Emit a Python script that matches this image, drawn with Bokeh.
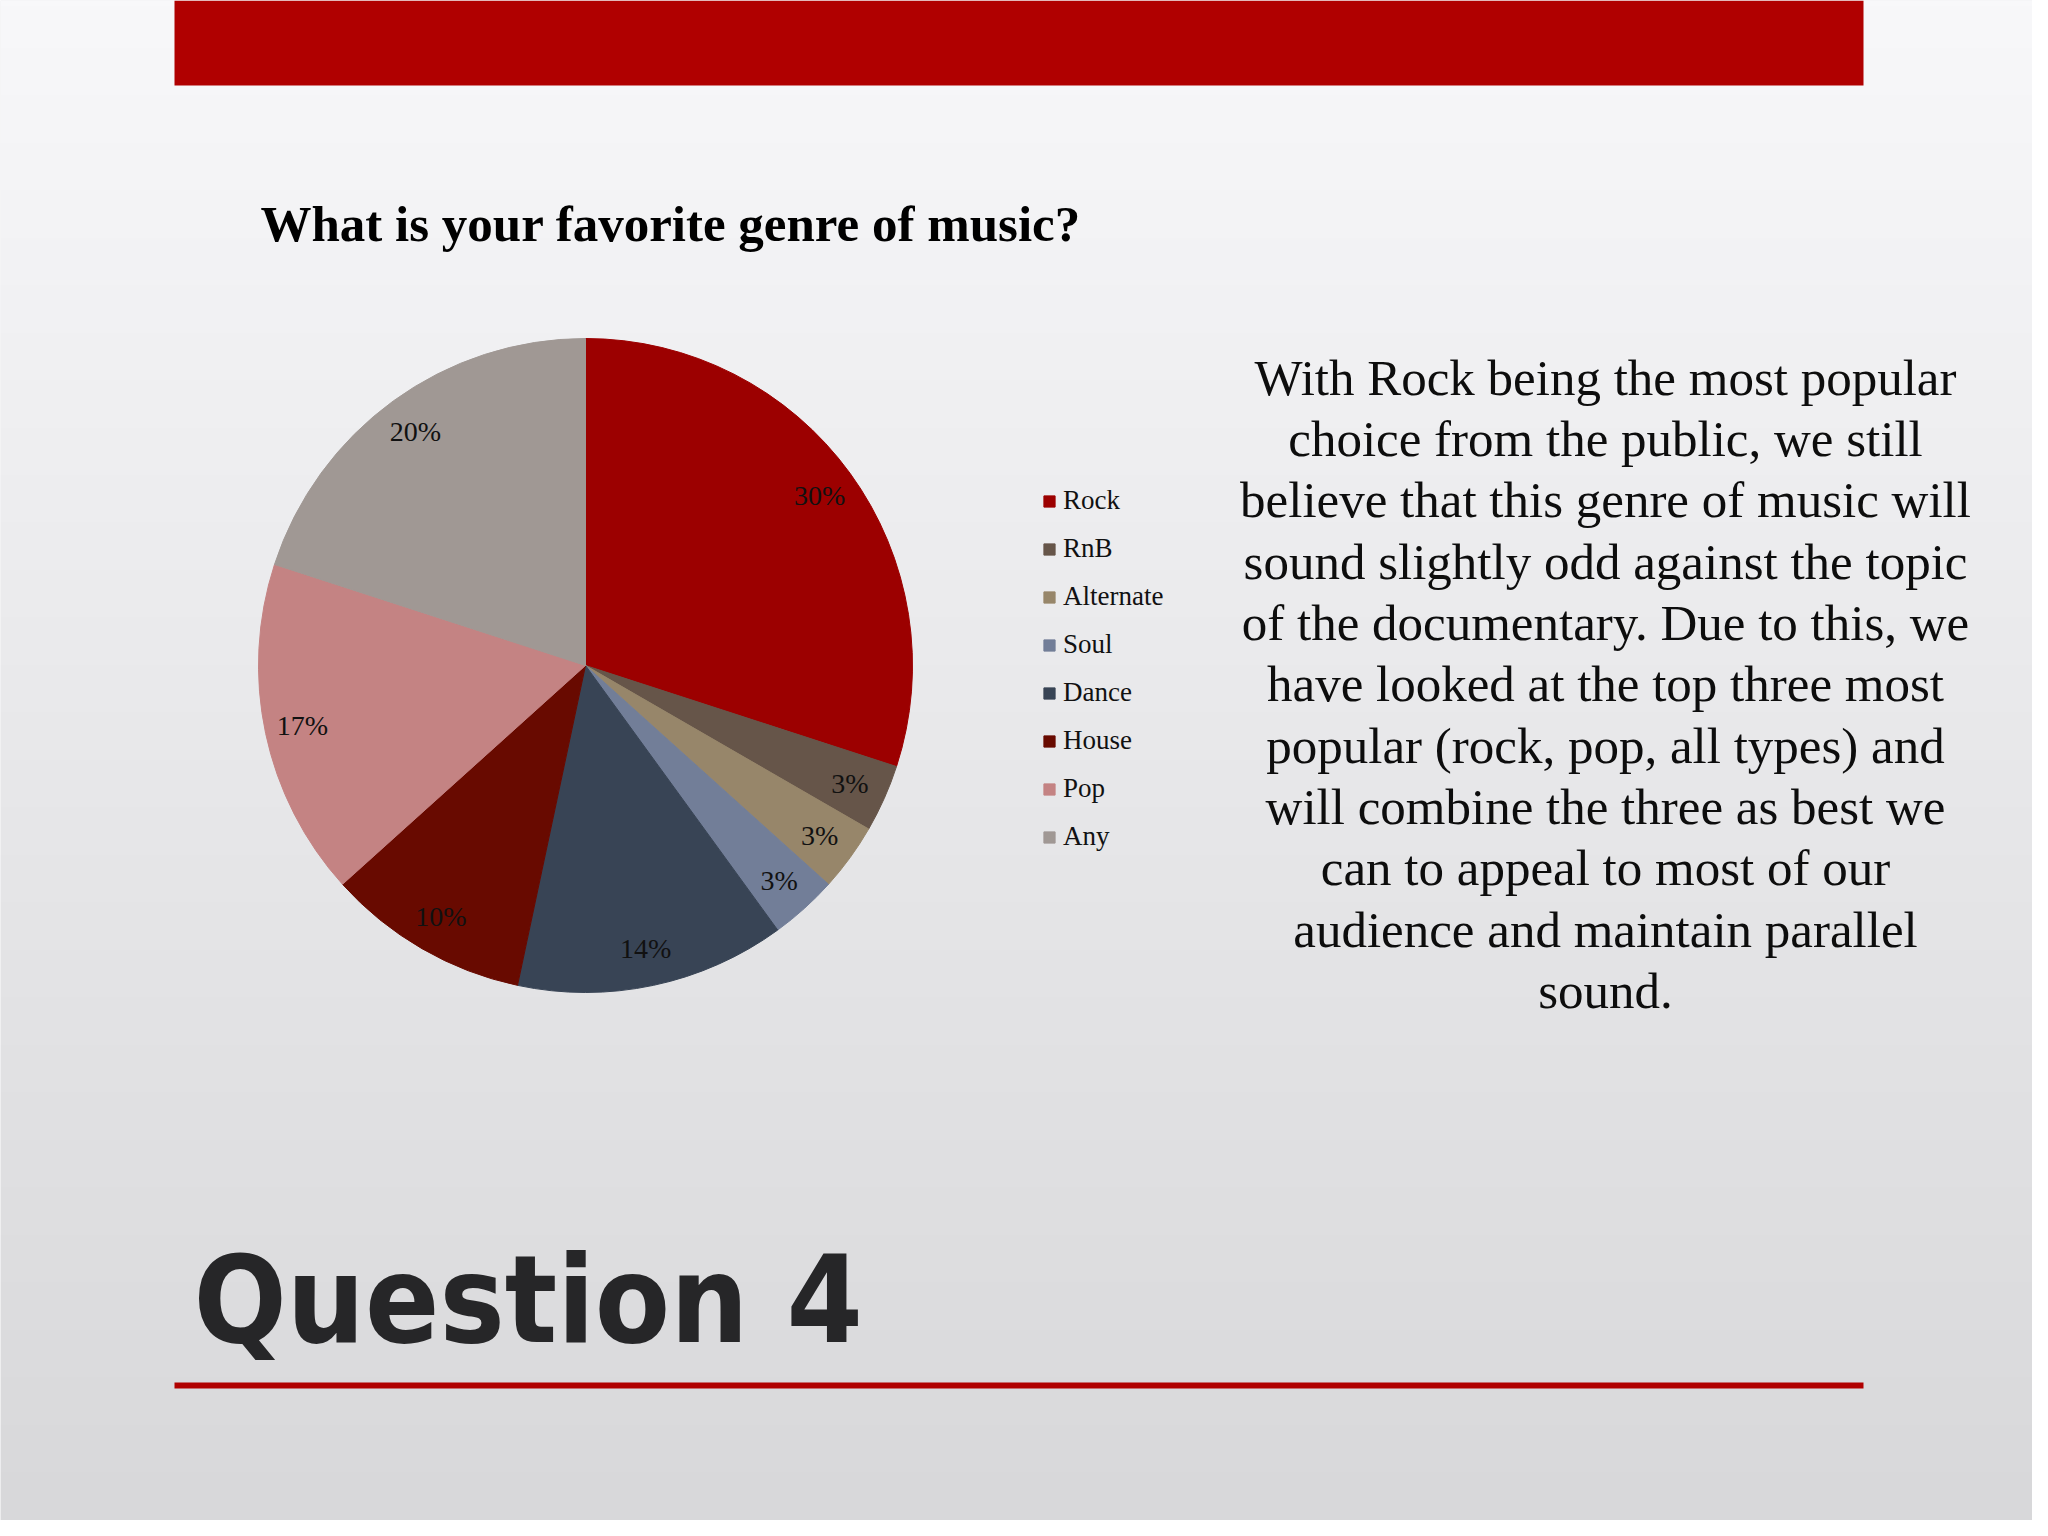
import numpy as np
from bokeh.plotting import figure
from bokeh.models import ColumnDataSource, Range1d, Legend, LegendItem
from bokeh.core.properties import value
from bokeh.embed import file_html
from bokeh.resources import INLINE

# ---- data ----
categories = ["Rock", "RnB", "Alternate", "Soul", "Dance", "House", "Pop", "Any"]
responses = [9, 1, 1, 1, 4, 3, 5, 6]          # slice sizes
pct_labels = ["30%", "3%", "3%", "3%", "14%", "10%", "17%", "20%"]  # data labels as printed
colors = ["#9c0000", "#665549", "#97866a", "#727e98", "#384455", "#680a00", "#c48383", "#a09894"]

chart_title = "What is your favorite genre of music?"
slide_title = "Question 4"
paragraph_lines = [
    "With Rock being the most popular",
    "choice from the public, we still",
    "believe that this genre of music will",
    "sound slightly odd against the topic",
    "of the documentary. Due to this, we",
    "have looked at the top three most",
    "popular (rock, pop, all types) and",
    "will combine the three as best we",
    "can to appeal to most of our",
    "audience and maintain parallel",
    "sound.",
]

PAGE_H = 1536
W, H_FIG = 2032, 1520


def Y(page_y):
    return PAGE_H - page_y


p = figure(width=W, height=H_FIG, x_range=Range1d(0, W), y_range=Range1d(PAGE_H - H_FIG, PAGE_H),
           output_backend="svg", toolbar_location=None, min_border=0,
           x_axis_type=None, y_axis_type=None, outline_line_color=None)
p.grid.visible = False
p.background_fill_color = "#ececee"
p.border_fill_color = "#ececee"

# background gradient
H = 256
img = np.zeros((H, 1), dtype=np.uint32)
view = img.view(dtype=np.uint8).reshape((H, 1, 4))
for i in range(H):
    t = 1 - i / (H - 1)  # 0 at top, 1 at bottom (row 0 is bottom)
    c = 248 - 32 * t
    view[i, 0, 0] = int(c)
    view[i, 0, 1] = int(c)
    view[i, 0, 2] = int(min(255, c + 2))
    view[i, 0, 3] = 255
p.image_rgba(image=[img], x=0, y=PAGE_H - H_FIG, dw=W, dh=H_FIG)

# top bar and bottom rule
p.quad(left=[174], right=[1863], top=[Y(0)], bottom=[Y(85)], fill_color="#b00000", line_color=None)
p.quad(left=[174], right=[1863], top=[Y(1382)], bottom=[Y(1388)], fill_color="#b00000", line_color=None)

# pie
cx, cy, r = 585, Y(665), 327
fr = np.array(responses, dtype=float) / sum(responses)
cum = np.concatenate([[0], np.cumsum(fr)])
start = np.pi / 2 - 2 * np.pi * cum[:-1]
end = np.pi / 2 - 2 * np.pi * cum[1:]
mid = np.pi / 2 - 2 * np.pi * (cum[:-1] + fr / 2)
src = ColumnDataSource(dict(cat=categories, start=start, end=end, color=colors,
                            lx=cx + 0.885 * r * np.cos(mid), ly=cy + 0.885 * r * np.sin(mid),
                            lab=pct_labels))
wr = p.wedge(x=cx, y=cy, radius=r, start_angle="start", end_angle="end", direction="clock",
             fill_color="color", line_color="color", line_width=1, source=src)
p.text(x="lx", y="ly", text="lab", source=src, text_align="center", text_baseline="middle",
       text_font=value("Liberation Serif"), text_font_size="28px", text_color="#111111")

# legend
items = [LegendItem(label=c, renderers=[wr], index=i) for i, c in enumerate(categories)]
legend = Legend(items=items, location=(1042, 668), orientation="vertical",
                glyph_width=14, glyph_height=14, label_standoff=7,
                label_text_font="Liberation Serif", label_text_font_size="27px",
                label_text_color="#111111", label_height=31, spacing=17,
                padding=0, margin=0, border_line_color=None, background_fill_alpha=0)
p.add_layout(legend)

# chart title
p.text(x=[260], y=[Y(223)], text=[chart_title], text_font=value("Liberation Serif"),
       text_font_style="bold", text_font_size="51px", text_align="left",
       text_baseline="middle", text_color="#000000")

# paragraph
p.text(x=[1605] * len(paragraph_lines), y=[Y(377 + i * 61.35) for i in range(len(paragraph_lines))],
       text=paragraph_lines, text_font=value("Liberation Serif"), text_font_size="51px",
       text_align="center", text_baseline="middle", text_color="#0d0d0d")

# slide title
p.text(x=[193], y=[Y(1299)], text=[slide_title], text_font=value("DejaVu Sans Condensed"),
       text_font_style="bold", text_font_size="122px", text_align="left",
       text_baseline="middle", text_color="#262628")

open("out.html", "w").write(file_html(p, INLINE))
